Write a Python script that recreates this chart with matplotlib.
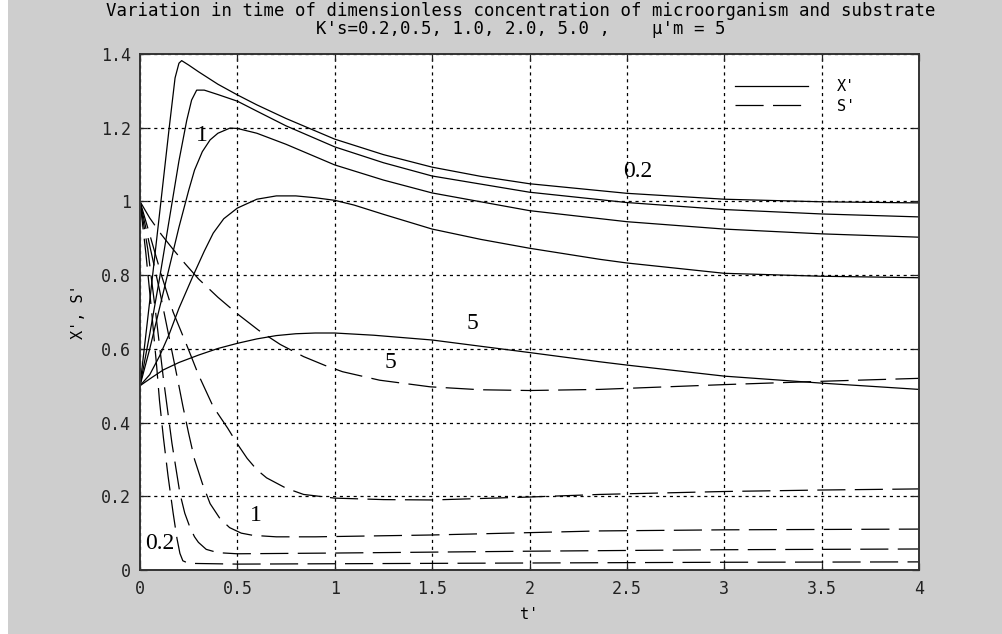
import matplotlib
matplotlib.use('Agg')
import matplotlib.pyplot as plt
from matplotlib.lines import Line2D

# ---------------- data ----------------
ks_values = [0.2, 0.5, 1.0, 2.0, 5.0]

# X' (dimensionless microorganism concentration)
tx_02 = [0, 0.05, 0.10, 0.15, 0.18, 0.20, 0.214, 0.25, 0.30, 0.40, 0.50, 0.60, 0.75, 1.0, 1.25, 1.5, 1.75, 2.0, 2.5, 3.0, 3.5, 4.0]
x_02 = [0.5, 0.73, 0.965, 1.20, 1.335, 1.375, 1.382, 1.37, 1.352, 1.318, 1.289, 1.262, 1.225, 1.169, 1.127, 1.093, 1.068, 1.048, 1.022, 1.006, 0.999, 0.996]

tx_05 = [0, 0.05, 0.10, 0.15, 0.20, 0.24, 0.265, 0.291, 0.33, 0.40, 0.50, 0.60, 0.75, 1.0, 1.25, 1.5, 2.0, 2.5, 3.0, 3.5, 4.0]
x_05 = [0.5, 0.64, 0.79, 0.95, 1.11, 1.22, 1.275, 1.302, 1.302, 1.29, 1.272, 1.245, 1.205, 1.148, 1.105, 1.069, 1.025, 0.997, 0.978, 0.966, 0.958]

tx_1 = [0, 0.05, 0.10, 0.15, 0.20, 0.25, 0.28, 0.32, 0.36, 0.40, 0.462, 0.50, 0.60, 0.75, 1.0, 1.25, 1.5, 2.0, 2.5, 3.0, 3.5, 4.0]
x_1 = [0.5, 0.60, 0.71, 0.82, 0.93, 1.03, 1.085, 1.135, 1.167, 1.185, 1.199, 1.198, 1.185, 1.155, 1.099, 1.058, 1.023, 0.975, 0.945, 0.925, 0.912, 0.903]

tx_2 = [0, 0.05, 0.10, 0.15, 0.20, 0.274, 0.33, 0.376, 0.43, 0.50, 0.60, 0.70, 0.80, 0.90, 1.0, 1.1, 1.25, 1.5, 1.75, 2.0, 2.36, 2.5, 3.0, 3.5, 4.0]
x_2 = [0.5, 0.53, 0.58, 0.64, 0.71, 0.80, 0.865, 0.914, 0.953, 0.982, 1.006, 1.015, 1.015, 1.01, 1.003, 0.99, 0.965, 0.925, 0.897, 0.873, 0.843, 0.833, 0.805, 0.797, 0.793]

tx_5 = [0, 0.06, 0.12, 0.20, 0.30, 0.40, 0.50, 0.60, 0.70, 0.80, 0.90, 1.0, 1.2, 1.5, 1.75, 2.0, 2.36, 2.5, 3.0, 3.5, 4.0]
x_5 = [0.5, 0.522, 0.543, 0.563, 0.583, 0.601, 0.615, 0.627, 0.636, 0.641, 0.643, 0.643, 0.637, 0.624, 0.607, 0.59, 0.565, 0.556, 0.526, 0.507, 0.49]

# S' (dimensionless substrate concentration)
ts_02 = [0, 0.03, 0.06, 0.086, 0.10, 0.12, 0.144, 0.17, 0.19, 0.205, 0.22, 0.25, 0.5, 1.0, 2.0, 3.0, 4.0]
s_02 = [1.0, 0.86, 0.70, 0.55, 0.46, 0.36, 0.255, 0.155, 0.085, 0.045, 0.025, 0.018, 0.016, 0.017, 0.019, 0.021, 0.022]

ts_05 = [0, 0.04, 0.08, 0.12, 0.164, 0.205, 0.23, 0.257, 0.28, 0.30, 0.34, 0.40, 0.50, 1.0, 2.0, 3.0, 4.0]
s_05 = [1.0, 0.87, 0.70, 0.52, 0.344, 0.208, 0.154, 0.115, 0.09, 0.075, 0.056, 0.047, 0.044, 0.046, 0.051, 0.055, 0.057]

ts_1 = [0, 0.05, 0.10, 0.15, 0.196, 0.22, 0.25, 0.28, 0.32, 0.36, 0.41, 0.46, 0.52, 0.58, 0.70, 0.90, 1.5, 2.36, 3.0, 4.0]
s_1 = [1.0, 0.88, 0.76, 0.63, 0.51, 0.445, 0.37, 0.30, 0.235, 0.18, 0.14, 0.115, 0.10, 0.094, 0.09, 0.09, 0.095, 0.106, 0.109, 0.111]

ts_2 = [0, 0.05, 0.11, 0.17, 0.24, 0.30, 0.376, 0.45, 0.50, 0.55, 0.60, 0.65, 0.75, 0.84, 1.0, 1.25, 1.5, 2.0, 2.36, 3.0, 3.5, 4.0]
s_2 = [1.0, 0.91, 0.80, 0.70, 0.61, 0.53, 0.443, 0.385, 0.342, 0.303, 0.272, 0.25, 0.222, 0.205, 0.195, 0.191, 0.19, 0.198, 0.205, 0.213, 0.217, 0.22]

ts_5 = [0, 0.05, 0.11, 0.17, 0.23, 0.30, 0.40, 0.50, 0.61, 0.72, 0.84, 0.95, 1.04, 1.23, 1.49, 1.75, 2.0, 2.36, 3.0, 3.5, 4.0]
s_5 = [1.0, 0.955, 0.91, 0.87, 0.832, 0.79, 0.74, 0.695, 0.65, 0.612, 0.579, 0.555, 0.538, 0.515, 0.497, 0.489, 0.487, 0.49, 0.503, 0.512, 0.52]

x_series = [(tx_02, x_02), (tx_05, x_05), (tx_1, x_1), (tx_2, x_2), (tx_5, x_5)]
s_series = [(ts_02, s_02), (ts_05, s_05), (ts_1, s_1), (ts_2, s_2), (ts_5, s_5)]

x_ticks = [0, 0.5, 1, 1.5, 2, 2.5, 3, 3.5, 4]
x_tick_labels = ['0', '0.5', '1', '1.5', '2', '2.5', '3', '3.5', '4']
y_ticks = [0, 0.2, 0.4, 0.6, 0.8, 1.0, 1.2, 1.4]
y_tick_labels = ['0', '0.2', '0.4', '0.6', '0.8', '1', '1.2', '1.4']

# curve labels: (text, t, value)
curve_labels = [('1', 0.317, 1.180), ('0.2', 2.557, 1.080), ('5', 1.705, 0.670),
                ('5', 1.284, 0.562), ('1', 0.596, 0.149), ('0.2', 0.103, 0.073)]

title_lines = ["Variation in time of dimensionless concentration of microorganism and substrate",
               "K's=0.2,0.5, 1.0, 2.0, 5.0 ,    \u03bc'm = 5"]

# ---------------- figure ----------------
W, H = 1002, 634
fig = plt.figure(figsize=(W / 100, H / 100), dpi=100)
fig.patch.set_facecolor('#cecece')
# thin white strip at the left edge of the reference picture
fig.patches.append(matplotlib.patches.Rectangle((0, 0), 8 / W, 1, transform=fig.transFigure,
                                                facecolor='white', edgecolor='none', zorder=-10))

mono = ['DejaVu Sans Mono', 'DejaVu Sans']
serif = ['Liberation Serif', 'DejaVu Serif']

ax = fig.add_axes([140 / W, (H - 570) / H, (919 - 140) / W, (570 - 54) / H])
ax.set_facecolor('white')

dash = (0, (22.5, 7.5))
for t, v in x_series:
    ax.plot(t, v, color='black', lw=0.9, solid_joinstyle='round')
for t, v in s_series:
    ax.plot(t, v, color='black', lw=0.9, linestyle=dash)

ax.set_xlim(0, 4)
ax.set_ylim(0, 1.4)
ax.set_xticks(x_ticks)
ax.set_xticklabels(x_tick_labels)
ax.set_yticks(y_ticks)
ax.set_yticklabels(y_tick_labels)

ax.grid(True, color='black', linestyle=(0, (2.5, 3)), lw=0.9)
ax.tick_params(direction='in', length=5, width=0.9, top=True, right=True,
               labelsize=12, colors='#222222')
ax.tick_params(axis='x', pad=7.5)
ax.tick_params(axis='y', pad=6.5)
for lab in ax.get_xticklabels() + ax.get_yticklabels():
    lab.set_family(mono)
for sp in ax.spines.values():
    sp.set_linewidth(1.4)
    sp.set_color('#333333')

ax.set_xlabel("t'", family=mono, fontsize=11, labelpad=6)
ax.set_ylabel("X', S'", family=mono, fontsize=11, labelpad=11)

fig.text(521 / W, 1 - 11 / H, title_lines[0], ha='center', va='center', family=mono, fontsize=12.5)
fig.text(521 / W, 1 - 29 / H, title_lines[1], ha='center', va='center', family=mono, fontsize=12.5)

for txt, tt, vv in curve_labels:
    ax.text(tt, vv, txt, ha='center', va='center', family=serif, fontsize=17, color='black')

handles = [Line2D([], [], color='black', lw=0.9),
           Line2D([], [], color='black', lw=0.9, linestyle=dash)]
leg = ax.legend(handles, ["X'", "S'"], loc='upper left', bbox_to_anchor=((735 - 140) / 779, (570 - 79) / 516),
                frameon=False, borderpad=0, borderaxespad=0, handlelength=4.75, handletextpad=1.9,
                labelspacing=0.3, prop={'family': mono, 'size': 11})

fig.savefig('out.png', dpi=100, facecolor=fig.get_facecolor())
